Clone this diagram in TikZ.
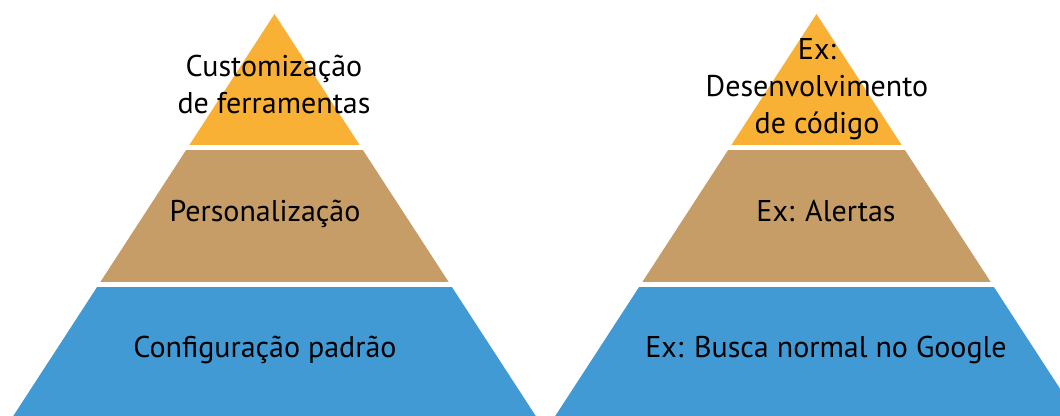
\documentclass[tikz,border=0pt]{standalone}
\usepackage{fontspec}
\setmainfont{PT Sans}
\definecolor{pyrorange}{RGB}{248,177,53}
\definecolor{pyrtan}{RGB}{199,157,103}
\definecolor{pyrblue}{RGB}{66,154,213}
\tikzset{
  lbl/.style={font=\fontsize{30}{37}\selectfont, text=black, inner sep=0pt, align=center, anchor=base},
}
\newcommand{\mypyramid}[1]{%
  \begin{scope}
    \clip (#1,14) -- (#1-264.5,421) -- (#1+264.5,421) -- cycle;
    \fill[pyrorange] (#1-300,0) rectangle (#1+300,145);
    \fill[pyrtan] (#1-300,150) rectangle (#1+300,282);
    \fill[pyrblue] (#1-300,287) rectangle (#1+300,430);
  \end{scope}}
\begin{document}
\begin{tikzpicture}[x=1pt,y=-1pt]
\useasboundingbox (0,0) rectangle (1060,415);
\clip (0,0) rectangle (1060,415);
\mypyramid{274.5}
\mypyramid{816.5}
\node[lbl] (l1) at (274,113.3) {Customização\\de ferramentas};
\node[lbl] (l2) at (265,221.7) {Personalização};
\node[lbl] (l3) at (265,357) {Configuração padrão};
\node[lbl] (r1) at (817,133) {Ex:\\Desenvolvimento\\de código};
\node[lbl] (r2) at (826,221.7) {Ex: Alertas};
\node[lbl] (r3) at (826,357) {Ex: Busca normal no Google};
\end{tikzpicture}
\end{document}
